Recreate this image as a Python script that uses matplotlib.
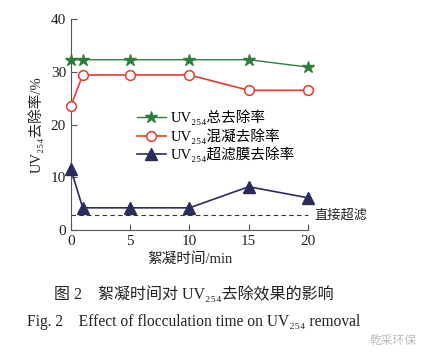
import matplotlib
matplotlib.use("Agg")
import matplotlib.pyplot as plt

plt.rcParams['font.family'] = ['Liberation Serif', 'DejaVu Serif', 'Noto Sans CJK SC']

time_min = [0, 1, 5, 10, 15, 20]
total_removal = [32.3, 32.3, 32.3, 32.3, 32.3, 30.9]
coag_removal = [23.5, 29.4, 29.4, 29.4, 26.5, 26.5]
uf_removal = [11.6, 4.2, 4.2, 4.2, 8.2, 6.1]
direct_uf = 2.8

labels = ['UV₂₅₄总去除率', 'UV₂₅₄混凝去除率', 'UV₂₅₄超滤膜去除率']

fig = plt.figure(figsize=(4.32, 3.61), dpi=100)
ax = fig.add_axes([0.164, 0.363, 0.549, 0.584])

green = '#2f7d3a'
red = '#e8392f'
navy = '#2a2c5c'

ax.plot(time_min, total_removal, color=green, lw=1.0, marker='*', ms=9,
        mfc=green, mec=green, label=labels[0], clip_on=False, zorder=3)
ax.plot(time_min, coag_removal, color=red, lw=1.2, marker='o', ms=7,
        mfc='white', mec=red, mew=1.1, label=labels[1], clip_on=False, zorder=3)
ax.plot(time_min, uf_removal, color=navy, lw=1.2, marker='^', ms=8,
        mfc=navy, mec=navy, label=labels[2], clip_on=False, zorder=3)
ax.plot([0, 20], [direct_uf, direct_uf], color='#333333', lw=0.8,
        ls=(0, (4, 3)), clip_on=False)
ax.text(20.5, direct_uf, '直接超滤', fontsize=9.5, va='center', ha='left', color='#222222')

ax.set_xlim(0, 20)
ax.set_ylim(0, 40)
ax.set_xticks([0, 5, 10, 15, 20])
ax.set_yticks([0, 10, 20, 30, 40])
for s in ['top', 'right']:
    ax.spines[s].set_visible(False)
for s in ['left', 'bottom']:
    ax.spines[s].set_color('#555555')
    ax.spines[s].set_linewidth(0.8)
ax.tick_params(direction='in', length=4, width=0.8, colors='#555555',
               labelsize=11, labelcolor='#222222')

ax.set_xlabel('絮凝时间/min', fontsize=10.5, color='#222222', labelpad=3)
ax.set_ylabel('UV₂₅₄去除率/%', fontsize=10.5, color='#222222', labelpad=5)

ax.legend(loc='upper left', bbox_to_anchor=(0.235, 0.62), frameon=False,
          fontsize=10.5, handlelength=2.0, handletextpad=0.3, labelspacing=0.2,
          borderpad=0.2)

fig.text(0.449, 0.185, '图 2    絮凝时间对 UV₂₅₄去除效果的影响',
         fontsize=11.5, ha='center', va='center', color='#222222')
fig.text(0.449, 0.108, 'Fig. 2    Effect of flocculation time on UV₂₅₄ removal',
         fontsize=11.2, ha='center', va='center', color='#222222')
fig.text(0.965, 0.055, '乾采环保', fontsize=8.5, ha='right', va='center', color='#bbbbbb')

fig.savefig('out.png', dpi=100)
